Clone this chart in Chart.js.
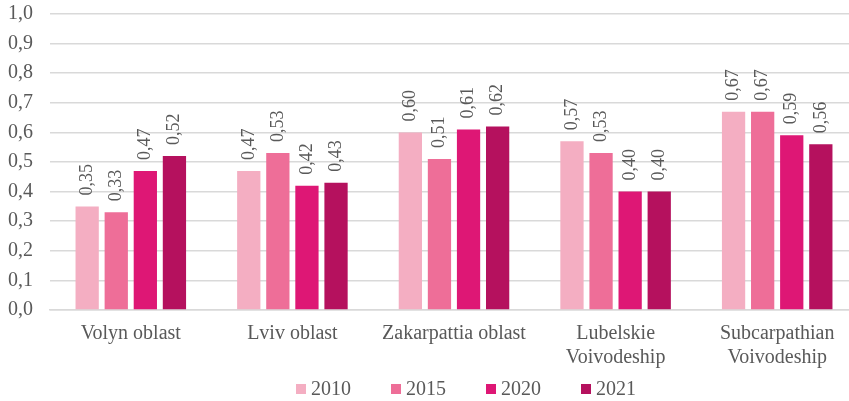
<!DOCTYPE html>
<html>
<head>
<meta charset="utf-8">
<script src="https://cdn.jsdelivr.net/npm/chart.js@4/dist/chart.umd.min.js"></script>
<style>
  body { margin: 0; background: white; overflow: hidden; }
  #wrap { width: 858px; height: 401px; }
</style>
</head>
<body>
<div id="wrap"><canvas id="chart" width="858" height="401"></canvas></div>
<script>
const regions = ['Volyn oblast', 'Lviv oblast', 'Zakarpattia oblast', ['Lubelskie', 'Voivodeship'], ['Subcarpathian', 'Voivodeship']]
const years = ['2010', '2015', '2020', '2021']
const values2010 = [0.35, 0.47, 0.60, 0.57, 0.67]
const values2015 = [0.33, 0.53, 0.51, 0.53, 0.67]
const values2020 = [0.47, 0.42, 0.61, 0.40, 0.59]
const values2021 = [0.52, 0.43, 0.62, 0.40, 0.56]
const colors = ['#f4aec2', '#ee6e98', '#de1775', '#b5115e']

Chart.defaults.font.family = '"Liberation Serif", "Times New Roman", serif'
Chart.defaults.color = '#595959'

const fmt = v => v.toFixed(2).replace('.', ',')

// rotated value labels above each bar
const barLabels = {
  id: 'barLabels',
  afterDatasetsDraw(chart) {
    const ctx = chart.ctx
    ctx.save()
    ctx.font = '18px "Liberation Serif", serif'
    ctx.fillStyle = '#595959'
    ctx.textAlign = 'left'
    ctx.textBaseline = 'middle'
    chart.data.datasets.forEach((ds, i) => {
      chart.getDatasetMeta(i).data.forEach((bar, j) => {
        ctx.save()
        ctx.translate(bar.x, bar.y - 11)
        ctx.rotate(-Math.PI / 2)
        ctx.fillText(fmt(ds.data[j]), 0, 0)
        ctx.restore()
      })
    })
    ctx.restore()
  }
}

// legend drawn by hand so box/text gaps match the original
const bottomLegend = {
  id: 'bottomLegend',
  afterDraw(chart) {
    const ctx = chart.ctx
    const step = 95
    const x0 = chart.chartArea.left + 246
    const y = 389
    ctx.save()
    ctx.font = '20px "Liberation Serif", serif'
    ctx.textBaseline = 'middle'
    ctx.textAlign = 'left'
    chart.data.datasets.forEach((ds, i) => {
      const x = x0 + i * step
      ctx.fillStyle = ds.backgroundColor
      ctx.fillRect(x, y - 5, 10, 10)
      ctx.fillStyle = '#595959'
      ctx.fillText(ds.label, x + 15, y + 1)
    })
    ctx.restore()
  }
}

const seriesValues = [values2010, values2015, values2020, values2021]

new Chart(document.getElementById('chart'), {
  type: 'bar',
  data: {
    labels: regions,
    datasets: years.map((y, i) => ({
      label: y,
      data: seriesValues[i],
      backgroundColor: colors[i],
      categoryPercentage: 0.72,
      barPercentage: 0.8
    }))
  },
  options: {
    responsive: false,
    animation: false,
    layout: { padding: { top: 0, right: 0, bottom: 27, left: 0 } },
    plugins: {
      legend: { display: false },
      tooltip: { enabled: false }
    },
    scales: {
      y: {
        min: 0,
        max: 1,
        ticks: {
          stepSize: 0.1,
          autoSkip: false,
          padding: 2,
          font: { size: 20 },
          callback: v => v.toFixed(1).replace('.', ',')
        },
        grid: { color: '#d9d9d9', lineWidth: 1.5, drawTicks: true, tickLength: 15, tickColor: 'rgba(0,0,0,0)' },
        border: { display: false },
        afterFit: s => { s.width = 50 }
      },
      x: {
        ticks: { font: { size: 20, lineHeight: 1.2 }, padding: 4, maxRotation: 0, autoSkip: false },
        grid: { display: false },
        border: { color: '#d9d9d9', width: 1.5 }
      }
    }
  },
  plugins: [barLabels, bottomLegend]
})
</script>
</body>
</html>
